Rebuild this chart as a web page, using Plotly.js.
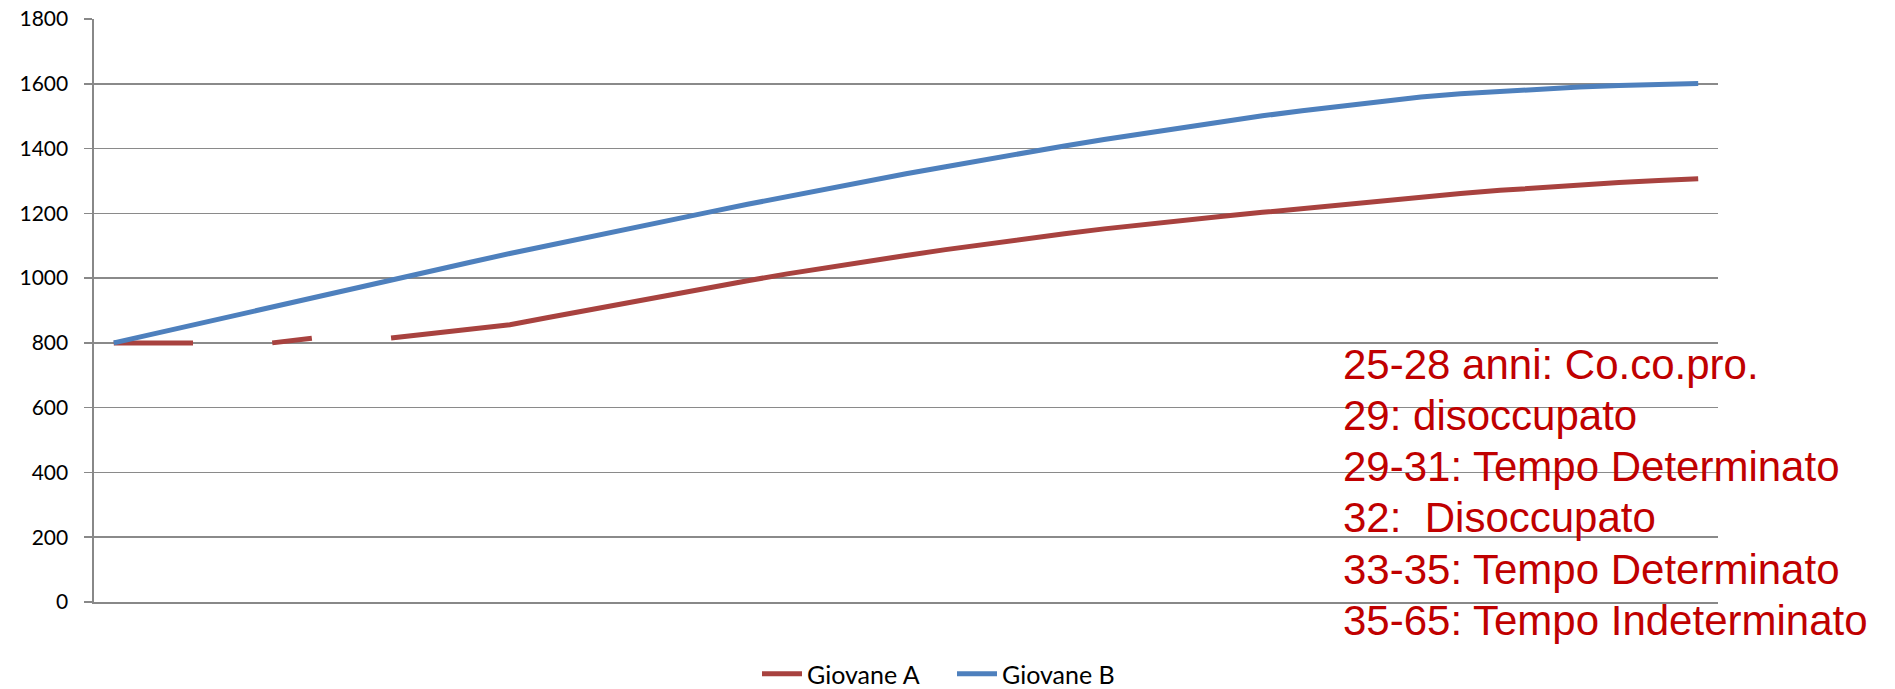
<!DOCTYPE html>
<html>
<head>
<meta charset="utf-8">
<script src="https://cdn.plot.ly/plotly-3.0.1.min.js"></script>
<style>html,body{margin:0;padding:0;background:#fff;}#chart{width:1895px;height:689px;}</style>
</head>
<body>
<div id="chart"></div>
<script>
// Ages (category axis, labels hidden in the original)
const ages = [25,26,27,28,29,30,31,32,33,34,35,36,37,38,39,40,41,42,43,44,45,
              46,47,48,49,50,51,52,53,54,55,56,57,58,59,60,61,62,63,64,65];

// Giovane A (gaps = periods of unemployment)
const giovaneA = [800,800,800,null,800,814,null,815,828,842,856,879,902,925,948,970,992,1013,1033,1052,1070,
                  1088,1105,1121,1137,1152,1166,1179,1191,1203,1215,1227,1239,1250,1261,1271,1280,1288,1295,1301,1307];

// Giovane B
const giovaneB = [800,828,856,884,912,940,968,995,1022,1049,1076,1102,1128,1153,1178,1203,1228,1252,1276,1299,1322,
                  1344,1366,1387,1408,1428,1447,1466,1484,1501,1517,1532,1546,1559,1569,1577,1584,1590,1595,1598,1601];

const seriesNames = ["Giovane A", "Giovane B"];
const yTicks = [0,200,400,600,800,1000,1200,1400,1600,1800];

const noteLines = [
  "25-28 anni: Co.co.pro.",
  "29: disoccupato",
  "29-31: Tempo Determinato",
  "32:  Disoccupato",
  "33-35: Tempo Determinato",
  "35-65: Tempo Indeterminato"
];

const W = 1895, H = 689;
const mL = 94, mR = 177, mT = 19, mB = 87;
const plotW = W - mL - mR, plotH = H - mT - mB;
const px2paperX = px => (px - mL) / plotW;
const px2paperY = py => (H - mB - py) / plotH;

const traces = [
  {x: ages, y: giovaneA, name: seriesNames[0], type: "scatter", mode: "lines",
   connectgaps: false, line: {color: "#A8423F", width: 5}},
  {x: ages, y: giovaneB, name: seriesNames[1], type: "scatter", mode: "lines",
   line: {color: "#4E80BD", width: 5}}
];

const annotations = noteLines.map((t, i) => ({
  text: t, xref: "paper", yref: "paper",
  x: px2paperX(1341), xanchor: "left",
  y: px2paperY(364.6 + i * 51.1), yanchor: "middle",
  showarrow: false,
  font: {family: "Liberation Sans, Arial, sans-serif", size: 42, color: "#C00000"}
}));

const layout = {
  width: W, height: H,
  margin: {l: mL, r: mR, t: mT, b: mB, pad: 0, autoexpand: false},
  paper_bgcolor: "#ffffff", plot_bgcolor: "#ffffff",
  showlegend: true,
  legend: {orientation: "h", xref: "container", x: 952 / W, xanchor: "center",
           yref: "container", y: (H - 674) / H, yanchor: "middle",
           font: {family: "Lato, Calibri, sans-serif", size: 25, color: "#000"},
           itemwidth: 40, entrywidth: 140, tracegroupgap: 0, bgcolor: "rgba(0,0,0,0)"},
  xaxis: {range: [24.5, 65.5], showticklabels: false, showgrid: false, zeroline: false,
          showline: true, linecolor: "#888888", linewidth: 1.6, ticks: "", fixedrange: true},
  yaxis: {range: [0, 1800], tickvals: yTicks, ticktext: yTicks.map(String),
          showgrid: true, gridcolor: "#8a8a8a", gridwidth: 1.6, zeroline: false,
          showline: true, linecolor: "#888888", linewidth: 1.6,
          ticks: "outside", ticklen: 8, tickcolor: "#888888", tickwidth: 1.6,
          ticklabelstandoff: 12,
          tickfont: {family: "Lato, Calibri, sans-serif", size: 21, color: "#000"}},
  annotations: annotations
};

Plotly.newPlot("chart", traces, layout, {displayModeBar: false, staticPlot: true});
</script>
</body>
</html>
